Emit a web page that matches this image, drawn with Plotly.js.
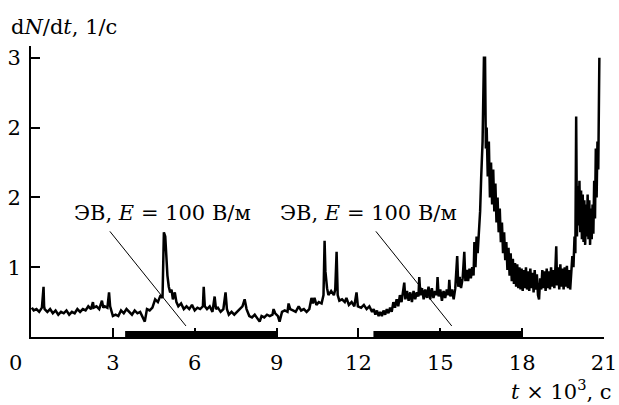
<!DOCTYPE html>
<html>
<head>
<meta charset="utf-8">
<script src="https://cdn.plot.ly/plotly-3.0.1.min.js"></script>
<style>html,body{margin:0;padding:0;background:#fff;}#chart{width:619px;height:405px;}</style>
</head>
<body>
<div id="chart"></div>
<script>
// time, 10^3 s
const tVals = [
 0.03,0.1,0.2,0.3,0.4,0.46,0.48,0.5,0.6,0.7,0.8,0.9,1.0,1.1,1.2,1.3,1.4,1.5,1.6,1.7,1.8,1.9,2.0,2.1,2.2,2.27,2.3,2.4,2.5,2.6,2.65,2.7,2.8,2.86,2.9,3.0,
 3.1,3.2,3.3,3.4,3.5,3.6,3.7,3.8,3.9,4.0,4.1,4.17,4.25,4.35,4.45,4.55,4.65,4.75,4.82,4.87,4.92,4.96,5.0,5.05,5.1,5.15,5.2,5.27,5.33,5.4,5.5,5.6,5.7,5.8,5.9,6.0,6.1,6.2,6.3,6.33,6.37,6.45,6.55,6.65,6.73,6.78,6.85,6.95,7.05,7.13,7.18,7.25,7.35,7.45,7.55,7.65,7.75,7.83,7.9,8.0,8.1,8.2,8.3,8.38,8.45,8.55,8.65,8.75,8.85,8.89,8.95,9.05,9.11,9.2,9.3,9.4,9.44,9.5,9.6,9.7,9.81,9.9,
 10.0,10.1,10.2,10.28,10.33,10.39,10.46,10.55,10.65,10.72,10.76,10.79,10.85,10.9,11.0,11.1,11.15,11.2,11.24,11.3,11.4,11.5,11.56,11.65,11.75,11.85,11.93,11.98,12.1,12.2,12.3,12.4,
 12.5,12.56,12.62,12.68,12.74,12.8,12.86,12.92,12.98,13.04,13.1,13.16,13.22,13.28,13.34,13.4,13.46,13.52,13.58,13.64,
 13.68,13.72,13.78,13.84,13.9,13.96,14.02,14.08,14.14,14.2,14.23,14.27,14.33,14.39,14.45,14.51,14.57,14.63,14.69,14.75,14.81,14.87,
 14.9,14.94,15.0,15.06,15.12,15.18,15.24,15.3,15.33,15.37,15.43,15.49,15.55,15.62,15.66,15.71,15.76,15.82,15.88,15.92,15.97,16.02,16.07,16.12,16.17,16.22,
 16.25,16.29,16.33,16.37,16.42,16.46,16.5,16.55,16.6,16.64,16.67,16.7,16.74,16.78,16.82,16.86,16.9,16.94,16.98,17.02,
 17.06,17.1,17.14,17.18,17.22,17.26,17.3,17.34,17.38,17.42,17.46,17.5,17.54,17.58,17.62,17.66,17.7,17.74,17.78,17.82,17.86,17.9,17.94,17.98,
 18.02,18.06,18.1,18.14,18.18,18.22,18.26,18.3,18.34,18.38,18.42,18.46,18.5,18.54,18.58,18.62,18.66,18.7,18.74,18.78,18.82,18.86,18.9,18.94,18.98,
 19.02,19.06,19.1,19.14,19.18,19.22,19.25,19.28,19.32,19.36,19.4,19.44,19.48,19.52,19.56,19.6,19.64,19.68,19.72,19.76,19.8,19.84,19.88,19.92,19.95,
 19.98,20.01,20.04,20.07,20.1,20.13,20.16,20.19,20.22,20.25,20.28,20.31,20.34,20.37,20.4,20.43,20.46,20.49,20.52,20.55,20.58,20.61,20.64,20.67,20.7,20.73,20.76,20.79,20.81,20.83
];
// dN/dt, 1/s
const rateVals = [
 1.21,1.19,1.20,1.18,1.21,1.36,1.22,1.20,1.18,1.20,1.17,1.19,1.16,1.18,1.17,1.19,1.16,1.18,1.17,1.20,1.18,1.20,1.19,1.22,1.20,1.25,1.21,1.22,1.20,1.26,1.21,1.22,1.21,1.32,1.22,1.15,
 1.16,1.15,1.19,1.17,1.20,1.18,1.16,1.19,1.17,1.18,1.14,1.11,1.20,1.19,1.21,1.27,1.25,1.30,1.28,1.75,1.72,1.54,1.44,1.36,1.32,1.34,1.27,1.32,1.25,1.22,1.24,1.20,1.22,1.20,1.23,1.19,1.21,1.20,1.22,1.36,1.22,1.20,1.22,1.18,1.29,1.20,1.21,1.18,1.20,1.32,1.20,1.16,1.18,1.16,1.18,1.20,1.22,1.27,1.20,1.15,1.14,1.16,1.13,1.11,1.15,1.14,1.16,1.15,1.16,1.20,1.17,1.15,1.11,1.18,1.19,1.18,1.24,1.20,1.19,1.18,1.22,1.19,
 1.20,1.18,1.20,1.28,1.24,1.28,1.23,1.25,1.24,1.30,1.69,1.47,1.35,1.30,1.33,1.30,1.34,1.61,1.30,1.26,1.27,1.25,1.28,1.23,1.25,1.22,1.32,1.22,1.21,1.23,1.20,1.22,
 1.18,1.20,1.16,1.19,1.15,1.18,1.15,1.19,1.16,1.20,1.17,1.21,1.18,1.25,1.21,1.27,1.22,1.30,1.25,1.32,
 1.39,1.27,1.33,1.26,1.32,1.25,1.33,1.27,1.32,1.29,1.43,1.30,1.35,1.27,1.34,1.28,1.36,1.27,1.35,1.28,1.33,1.30,
 1.43,1.29,1.34,1.26,1.33,1.28,1.34,1.30,1.41,1.29,1.34,1.27,1.35,1.58,1.36,1.43,1.35,1.42,1.61,1.40,1.48,1.40,1.49,1.42,1.50,1.44,
 1.68,1.50,1.72,1.60,1.75,1.90,2.15,2.40,3.00,3.00,2.35,2.50,2.15,2.40,2.00,2.25,1.95,2.20,1.90,2.10,
 1.82,2.00,1.75,1.92,1.68,1.82,1.60,1.75,1.55,1.68,1.48,1.64,1.44,1.60,1.40,1.56,1.38,1.53,1.36,1.52,1.35,1.50,1.34,1.49,
 1.33,1.48,1.35,1.50,1.34,1.47,1.33,1.49,1.35,1.46,1.32,1.48,1.34,1.45,1.30,1.27,1.42,1.34,1.48,1.35,1.47,1.33,1.49,1.35,1.47,
 1.34,1.50,1.36,1.48,1.35,1.50,1.65,1.37,1.50,1.34,1.52,1.36,1.49,1.34,1.50,1.36,1.51,1.35,1.48,1.34,1.50,1.58,1.50,1.72,1.60,
 2.58,1.72,2.08,1.80,2.12,1.75,2.05,1.70,2.02,1.68,1.98,1.66,1.95,1.72,2.02,1.70,1.98,1.66,1.92,1.70,1.95,1.74,2.12,1.85,2.35,2.00,2.40,2.20,2.60,3.00
];
// electric field (ЭВ) intervals, 10^3 s
const fieldStart = [3.45, 12.55];
const fieldEnd = [9.0, 18.0];
const xTickVals = [3, 6, 9, 12, 15, 18, 21];
const xTickText = ["3", "6", "9", "12", "15", "18", "21"];
const yTickVals = [1.5, 2, 2.5, 3];
const yTickText = ["1", "2", "2", "3"];
const noteText = "ЭВ, <i>E</i> = 100 В/м";

const FONT = 'DejaVu Serif';
const Y0 = 1.0;

const shapes = fieldStart.map((s, i) => ({
  type: 'rect', xref: 'x', yref: 'y', ysizemode: 'pixel', yanchor: Y0,
  x0: s, x1: fieldEnd[i], y0: 0, y1: 6,
  fillcolor: '#000', line: {width: 0}, layer: 'above'
}));
shapes.push({type:'line', xref:'x', yref:'y', x0:2.89, y0:1.757, x1:5.68, y1:1.079, line:{color:'#000', width:1}});
shapes.push({type:'line', xref:'x', yref:'y', x0:12.64, y0:1.757, x1:15.42, y1:1.079, line:{color:'#000', width:1}});

const layout = {
  width: 619, height: 405,
  margin: {l: 31, r: 15, t: 46, b: 68},
  paper_bgcolor: '#fff', plot_bgcolor: '#fff',
  showlegend: false,
  font: {family: FONT, size: 21, color: '#000'},
  xaxis: {
    range: [0, 21], tickvals: xTickVals, ticktext: xTickText,
    ticks: 'inside', ticklen: 9, tickwidth: 2, tickcolor: '#000',
    showline: true, linecolor: '#000', linewidth: 2, showgrid: false, zeroline: false,
    ticklabelstandoff: 6,
    tickfont: {family: FONT, size: 21, color: '#000'}
  },
  yaxis: {
    range: [Y0, 3.085], tickvals: yTickVals, ticktext: yTickText,
    ticks: 'inside', ticklen: 9, tickwidth: 2, tickcolor: '#000',
    showline: true, linecolor: '#000', linewidth: 2, showgrid: false, zeroline: false,
    ticklabelstandoff: 4,
    tickfont: {family: FONT, size: 21, color: '#000'}
  },
  shapes: shapes,
  annotations: [
    {xref:'x', yref:'y', x:4.83, y:1.886, text: noteText, showarrow:false, xanchor:'center', yanchor:'middle', font:{family:FONT, size:21, color:'#000'}},
    {xref:'x', yref:'y', x:12.36, y:1.886, text: noteText, showarrow:false, xanchor:'center', yanchor:'middle', font:{family:FONT, size:21, color:'#000'}},
    {xref:'x', yref:'paper', x:0, y:0, yshift:-26, xshift:-16, text:'0', showarrow:false, xanchor:'center', yanchor:'middle', font:{family:FONT, size:21, color:'#000'}},
    {xref:'paper', yref:'paper', x:1, y:0, xshift:10, yshift:-53, text:'<i>t</i> × 10<sup>3</sup>, c', showarrow:false, xanchor:'right', yanchor:'middle', font:{family:FONT, size:21, color:'#000'}},
    {xref:'paper', yref:'paper', x:0, y:1, xshift:-22, yshift:19, text:'d<i>N</i>/d<i>t</i>, 1/c', showarrow:false, xanchor:'left', yanchor:'middle', font:{family:FONT, size:21, color:'#000'}}
  ]
};

Plotly.newPlot('chart', [{
  x: tVals, y: rateVals, type: 'scatter', mode: 'lines',
  line: {color: '#000', width: 2.5}, cliponaxis: false
}], layout, {staticPlot: true, displayModeBar: false});
</script>
</body>
</html>
